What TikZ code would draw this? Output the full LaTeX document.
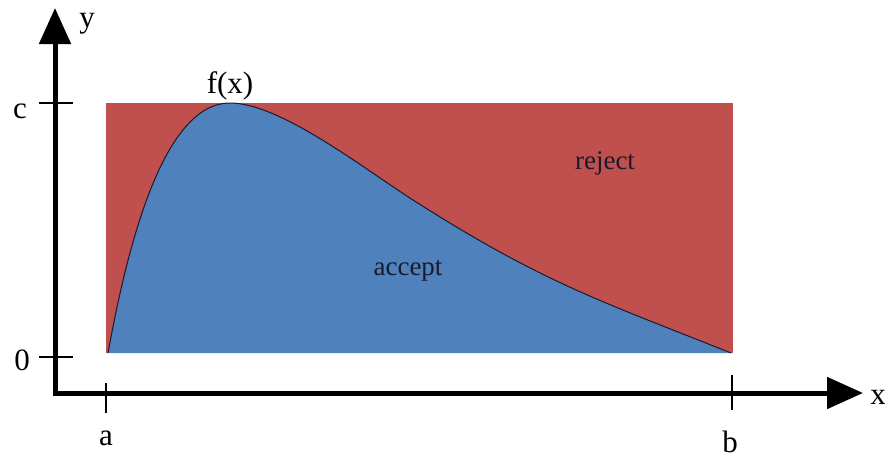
\documentclass[tikz,border=0pt]{standalone}
\usepackage{fontspec}
\setmainfont{Liberation Serif}
\usetikzlibrary{arrows.meta}
\definecolor{rejred}{HTML}{C0504D}
\definecolor{accblue}{HTML}{4F81BD}
\definecolor{inkdark}{HTML}{1A1A2A}
\tikzset{
  axislbl/.style={font=\fontsize{31}{36}\selectfont, text=black, inner sep=0pt, anchor=base},
  regionlbl/.style={font=\fontsize{27}{30}\selectfont, text=inkdark, inner sep=0pt},
  tickline/.style={line width=2pt, black},
  axisline/.style={line width=5pt, line join=miter, black,
    {Triangle[length=36pt,width=31pt]}-{Triangle[length=36pt,width=31pt]}},
}
\def\fcurve{(108,353) .. controls (125,260) and (160,103) .. (230,103)
  .. controls (280,103) and (363,168) .. (413,200)
  .. controls (543,283) and (601,301) .. (731,353)}
\begin{document}
\begin{tikzpicture}[x=1pt,y=-1pt]
\useasboundingbox (0,0) rectangle (885,458);
% regions
\fill[rejred] (106,103) rectangle (733,353);
\fill[accblue] \fcurve -- cycle;
\draw[inkdark, line width=1pt] \fcurve;
% axes
\coordinate (ytip) at (55,8);
\coordinate (O) at (55,393);
\coordinate (xtip) at (863,393);
\draw[axisline] (ytip) -- (O) -- (xtip);
% ticks
\coordinate (c1) at (39,103); \coordinate (c2) at (73,103);
\coordinate (z1) at (39,357); \coordinate (z2) at (73,357);
\coordinate (a1) at (106,383); \coordinate (a2) at (106,413);
\coordinate (b1) at (732,375); \coordinate (b2) at (732,410);
\draw[tickline] (c1) -- (c2);
\draw[tickline] (z1) -- (z2);
\draw[tickline] (a1) -- (a2);
\draw[tickline] (b1) -- (b2);
% labels
\node[axislbl] (lc) at (20,118) {c};
\node[axislbl] (l0) at (22,370) {0};
\node[axislbl] (la) at (106,445) {a};
\node[axislbl] (lb) at (730,452) {b};
\node[axislbl] (lx) at (878,404) {x};
\node[axislbl] (ly) at (87,27) {y};
\node[axislbl] (lf) at (230,93) {f(x)};
\node[regionlbl] (acc) at (408,271) {accept};
\node[regionlbl] (rej) at (605,163) {reject};
\end{tikzpicture}
\end{document}
